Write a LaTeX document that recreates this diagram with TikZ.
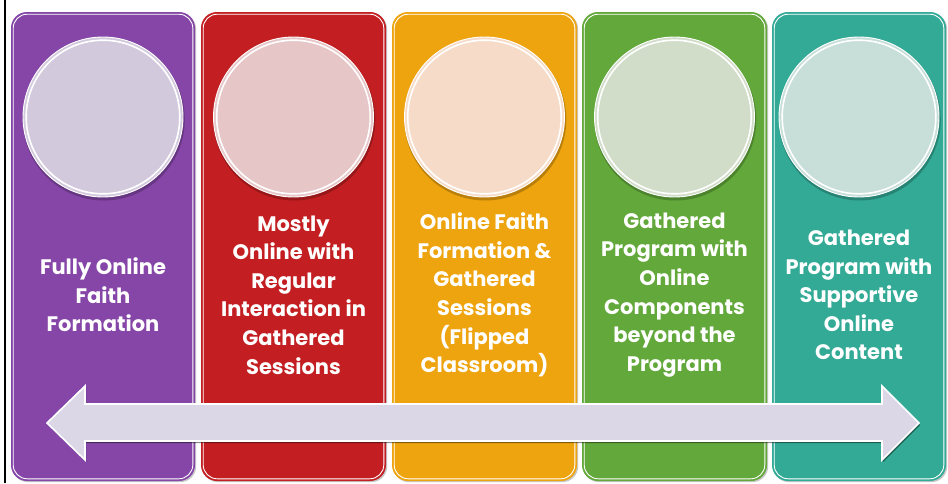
\documentclass[tikz,border=0pt]{standalone}
\usepackage{fontspec}
\setmainfont{Poppins}
\usetikzlibrary{shadows}
\definecolor{cpurple}{HTML}{8546A7}
\definecolor{cred}{HTML}{C31F22}
\definecolor{corange}{HTML}{EEA40E}
\definecolor{cgreen}{HTML}{62A83A}
\definecolor{cteal}{HTML}{33AA96}
\definecolor{lpurple}{HTML}{D3C9DD}
\definecolor{lred}{HTML}{E6C6C7}
\definecolor{lorange}{HTML}{F6DCC8}
\definecolor{lgreen}{HTML}{D1DDC9}
\definecolor{lteal}{HTML}{C8DED9}
\definecolor{arrowfill}{HTML}{DCD7E6}
\newcommand\mypanel[6]{%
  \pgfmathsetmacro\cx{(#1+#2)/2}
  \fill[black!22, rounded corners=16pt] (#1+1.2,13.2) rectangle (#2+1.2,482.2);
  \fill[#3, rounded corners=16pt] (#1,12) rectangle (#2,481);
  \draw[white, line width=0.9pt, rounded corners=14pt] (#1+2.2,14.2) rectangle (#2-2.2,478.8);
  \fill[black, opacity=0.22] (\cx+0.8,119.5) circle (81pt);
  \fill[#4] (\cx,117) circle (80pt);
  \draw[white, line width=0.9pt] (\cx,117) circle (80pt);
  \draw[white, line width=1.6pt] (\cx,117) circle (76.8pt);
  \node[paneltext] (#5) at (\cx,295) {#6};
}
\tikzset{paneltext/.style={text=white, align=center, font=\bfseries\fontsize{21}{28.6}\selectfont, inner sep=0pt}}
\begin{document}
\begin{tikzpicture}[x=1pt,y=-1pt]
\useasboundingbox (0,0) rectangle (948,483);
\fill[white] (0,0) rectangle (948,483);
\draw[black, line width=2pt] (5,0) -- (5,483);
\mypanel{11}{195}{cpurple}{lpurple}{t1}{Fully Online\\Faith\\Formation}
\mypanel{201}{386}{cred}{lred}{t2}{Mostly\\Online with\\Regular\\Interaction in\\Gathered\\Sessions}
\mypanel{392}{577}{corange}{lorange}{t3}{Online Faith\\Formation \&\\Gathered\\Sessions\\(Flipped\\Classroom)}
\mypanel{582}{767}{cgreen}{lgreen}{t4}{Gathered\\Program with\\Online\\Components\\beyond the\\Program}
\mypanel{772}{946}{cteal}{lteal}{t5}{Gathered\\Program with\\Supportive\\Online\\Content}
\draw[fill=arrowfill, draw=white, line width=1.6pt, line join=miter,
  drop shadow={shadow xshift=1.2pt, shadow yshift=-2pt, opacity=0.45, fill=black}]
  (47,423) -- (85,386) -- (85,404) -- (882,404) -- (882,386) -- (919,423)
  -- (882,460) -- (882,441) -- (85,441) -- (85,460) -- cycle;
\end{tikzpicture}
\end{document}
